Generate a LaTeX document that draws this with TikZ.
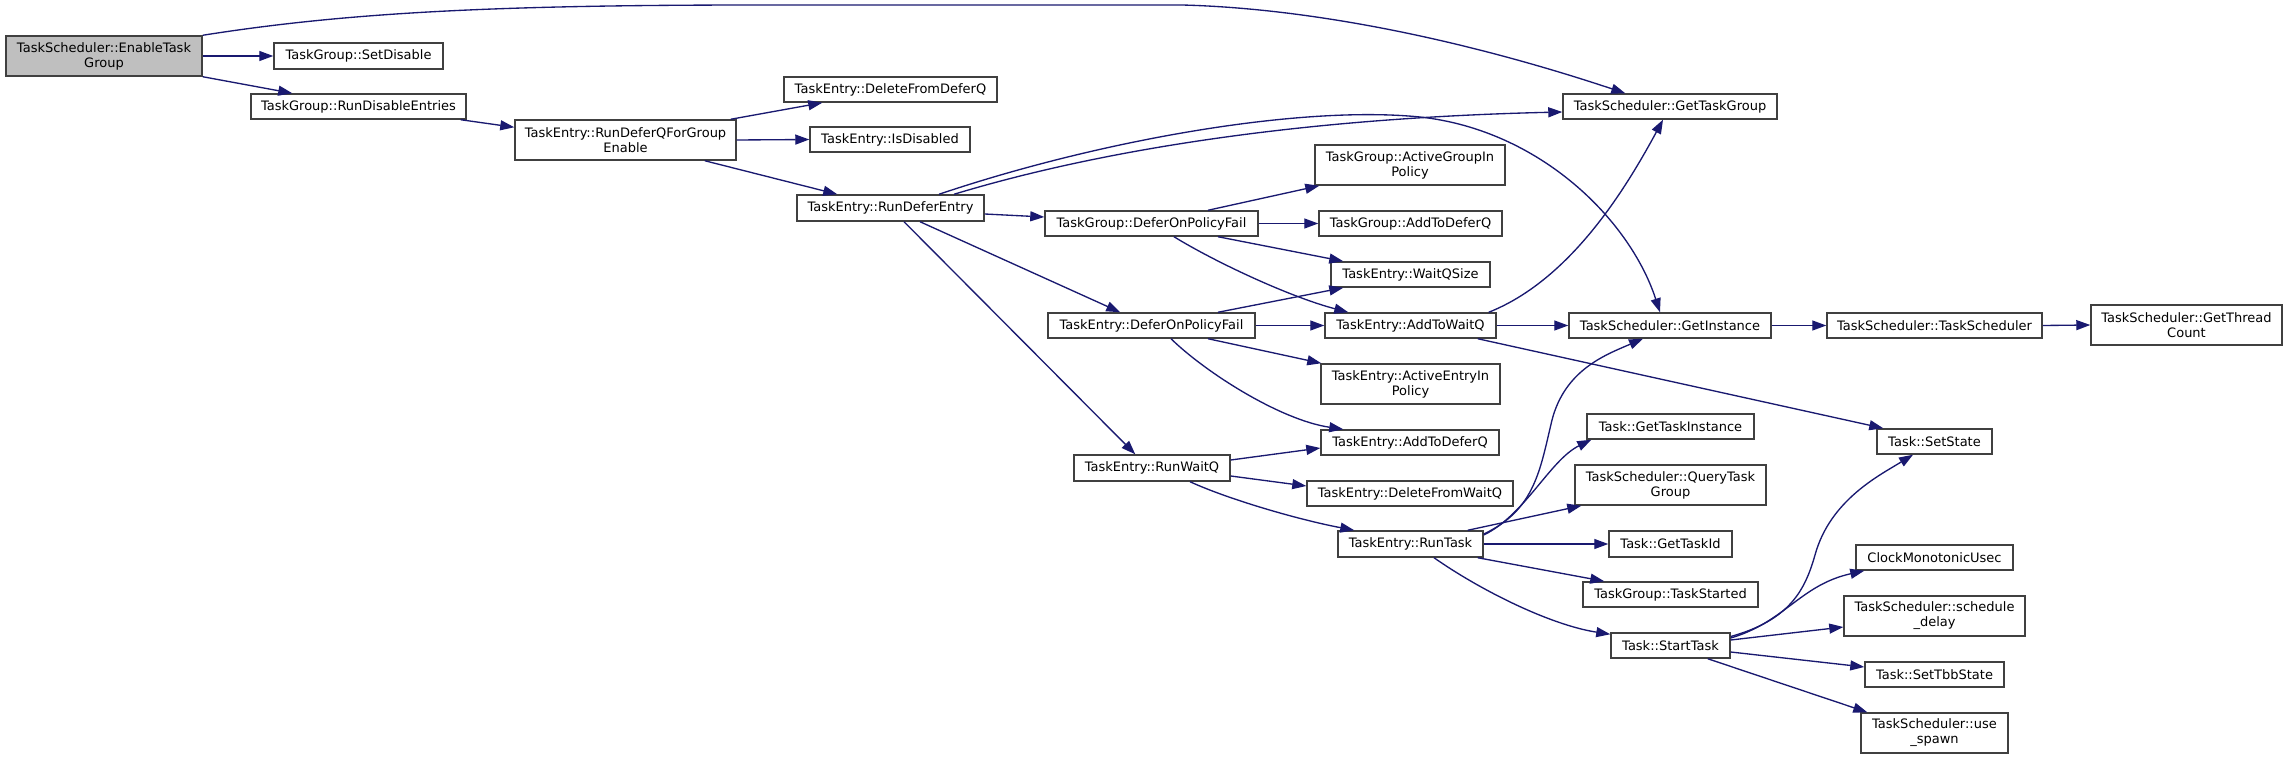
\documentclass[tikz,border=0pt]{standalone}
\usepackage{fontspec}
\setmainfont{DejaVu Sans}
\usetikzlibrary{arrows.meta,calc}
\definecolor{edgec}{HTML}{191970}
\definecolor{nodeb}{HTML}{404040}
\definecolor{rootf}{HTML}{BFBFBF}
\begin{document}
\begin{tikzpicture}[x=0.75pt,y=-0.75pt,
  box/.style={draw=nodeb, line width=1.1pt, fill=white, inner sep=0pt, align=center,
    font=\fontsize{9.75}{11.25}\selectfont},
  sz/.style 2 args={minimum width=#1*0.75pt, minimum height=#2*0.75pt},
  edge/.style={draw=edgec, line width=1pt, -{Triangle[length=10.5pt,width=7.5pt]}}]
\fill[white] (0,0) rectangle (2288,759);
\useasboundingbox (0,0) rectangle (2288,759);

\node[box,fill=rootf,sz={196}{40}] (root) at (104,56) {TaskScheduler::EnableTask\\Group};
\node[box,sz={169}{26}] (setdis) at (358.5,56) {TaskGroup::SetDisable};
\node[box,sz={215}{25}] (rundis) at (358.5,106.5) {TaskGroup::RunDisableEntries};
\node[box,sz={221}{40}] (rdq) at (625.5,140) {TaskEntry::RunDeferQForGroup\\Enable};
\node[box,sz={213}{25}] (delq) at (890.5,89.5) {TaskEntry::DeleteFromDeferQ};
\node[box,sz={160}{25}] (isdis) at (890,139.5) {TaskEntry::IsDisabled};
\node[box,sz={187}{26}] (rde) at (890.5,208) {TaskEntry::RunDeferEntry};
\node[box,sz={190}{40}] (agip) at (1410,165) {TaskGroup::ActiveGroupIn\\Policy};
\node[box,sz={213}{25}] (tgd) at (1151.5,223.5) {TaskGroup::DeferOnPolicyFail};
\node[box,sz={183}{25}] (tgadq) at (1410.5,223.5) {TaskGroup::AddToDeferQ};
\node[box,sz={214}{25}] (gtg) at (1670,106.5) {TaskScheduler::GetTaskGroup};
\node[box,sz={159}{25}] (wqs) at (1410.5,274.5) {TaskEntry::WaitQSize};
\node[box,sz={207}{25}] (ted) at (1151.5,325.5) {TaskEntry::DeferOnPolicyFail};
\node[box,sz={171}{25}] (atwq) at (1410.5,325.5) {TaskEntry::AddToWaitQ};
\node[box,sz={179}{40}] (aeip) at (1410.5,384) {TaskEntry::ActiveEntryIn\\Policy};
\node[box,sz={178}{25}] (teadq) at (1410,442.5) {TaskEntry::AddToDeferQ};
\node[box,sz={156}{26}] (rwq) at (1152,468) {TaskEntry::RunWaitQ};
\node[box,sz={206}{25}] (dfwq) at (1410,493.5) {TaskEntry::DeleteFromWaitQ};
\node[box,sz={202}{25}] (gi) at (1670,325.5) {TaskScheduler::GetInstance};
\node[box,sz={215}{25}] (tsc) at (1934.5,325.5) {TaskScheduler::TaskScheduler};
\node[box,sz={191}{40}] (gtc) at (2186.5,325) {TaskScheduler::GetThread\\Count};
\node[box,sz={115}{25}] (ss) at (1934.5,441.5) {Task::SetState};
\node[box,sz={167}{25}] (gti) at (1670.5,426.5) {Task::GetTaskInstance};
\node[box,sz={191}{40}] (qtg) at (1670.5,485) {TaskScheduler::QueryTask\\Group};
\node[box,sz={145}{26}] (rt) at (1410.5,544) {TaskEntry::RunTask};
\node[box,sz={123}{26}] (gtid) at (1670.5,544) {Task::GetTaskId};
\node[box,sz={175}{25}] (tst) at (1670.5,594.5) {TaskGroup::TaskStarted};
\node[box,sz={119}{25}] (st) at (1670.5,645.5) {Task::StartTask};
\node[box,sz={157}{25}] (cmu) at (1934.5,557.5) {ClockMonotonicUsec};
\node[box,sz={181}{40}] (sd) at (1934.5,616) {TaskScheduler::schedule\\\_delay};
\node[box,sz={139}{25}] (stbb) at (1934.5,674.5) {Task::SetTbbState};
\node[box,sz={147}{40}] (us) at (1934.5,733) {TaskScheduler::use\\\_spawn};

\draw[edge] (root.east) -- (setdis.west);
\draw[edge] (root.south east) -- ($(rundis.north west)+(42,0)$);
\draw[edge] (root.north east) .. controls (350,12) and (500,5) .. (760,5) -- (1182,5) .. controls (1300,8) and (1450,35) .. ($(gtg.north west)+(63,0)$);
\draw[edge] ($(rundis.south east)+(-6,0)$) -- ($(rdq.north west)+(0,8)$);
\draw[edge] ($(rdq.north east)+(-6,0)$) -- ($(delq.south west)+(39,0)$);
\draw[edge] (rdq.east) -- (isdis.west);
\draw[edge] ($(rdq.south east)+(-32,0)$) -- ($(rde.north west)+(41,0)$);
\draw[edge] ($(rde.north)+(63.5,0)$) .. controls (1100,150) and (1300,118) .. ($(gtg.west)+(0,5.5)$);
\draw[edge] ($(rde.north)+(48.5,0)$) .. controls (1100,140) and (1300,105) .. (1420,117) .. controls (1540,130) and (1630,220) .. ($(gi.north)+(-10,0)$);
\draw[edge] ($(rde.east)+(0,6)$) -- ($(tgd.west)+(0,-6.5)$);
\draw[edge] ($(rde.south)+(29.5,0)$) -- ($(ted.north west)+(73,0)$);
\draw[edge] ($(rde.south)+(13.5,0)$) -- ($(rwq.north west)+(62,0)$);
\draw[edge] ($(tgd.north)+(56.5,0)$) -- ($(agip.south west)+(5,0)$);
\draw[edge] (tgd.east) -- (tgadq.west);
\draw[edge] ($(tgd.south)+(66.5,0)$) -- ($(wqs.north west)+(13,0)$);
\draw[edge] ($(tgd.south)+(22.5,0)$) .. controls (1215,262) and (1290,297) .. ($(atwq.north west)+(24,0)$);
\draw[edge] ($(ted.north)+(66.5,0)$) -- ($(wqs.south west)+(13,0)$);
\draw[edge] (ted.east) -- (atwq.west);
\draw[edge] ($(ted.south)+(56.5,0)$) -- ($(aeip.north west)+(1,0)$);
\draw[edge] ($(ted.south)+(19.5,0)$) .. controls (1205,372) and (1280,420) .. ($(teadq.north west)+(23,0)$);
\draw[edge] ($(atwq.north east)+(-8,0)$) .. controls (1570,280) and (1625,190) .. ($(gtg.south)+(-7,0)$);
\draw[edge] (atwq.east) -- (gi.west);
\draw[edge] ($(atwq.south east)+(-19,0)$) -- ($(ss.north west)+(7,0)$);
\draw[edge] (gi.east) -- (tsc.west);
\draw[edge] (tsc.east) -- (gtc.west);
\draw[edge] ($(rwq.east)+(0,-8)$) -- ($(teadq.west)+(0,5.5)$);
\draw[edge] ($(rwq.east)+(0,8)$) -- ($(dfwq.west)+(0,-7.5)$);
\draw[edge] ($(rwq.south)+(38,0)$) .. controls (1230,500) and (1300,520) .. ($(rt.north west)+(17,0)$);
\draw[edge] ($(rt.east)+(0,-10)$) .. controls (1535,510) and (1540,470) .. (1552,420) .. controls (1565,370) and (1605,355) .. ($(gi.south)+(-27,0)$);
\draw[edge] ($(rt.east)+(0,-9)$) .. controls (1525,515) and (1550,460) .. ($(gti.south west)+(5,0)$);
\draw[edge] ($(rt.north east)+(-16,0)$) -- ($(qtg.south west)+(7,0)$);
\draw[edge] (rt.east) -- (gtid.west);
\draw[edge] ($(rt.south east)+(-6,0)$) -- ($(tst.north west)+(22,0)$);
\draw[edge] ($(rt.south)+(23.5,0)$) .. controls (1480,590) and (1550,625) .. ($(st.north west)+(0,2)$);
\draw[edge] ($(st.east)+(0,-9)$) .. controls (1790,620) and (1805,590) .. (1815,555) .. controls (1830,500) and (1880,475) .. ($(ss.south)+(-21.5,0)$);
\draw[edge] ($(st.east)+(0,-7.5)$) .. controls (1785,622) and (1800,585) .. ($(cmu.south west)+(9,0)$);
\draw[edge] ($(st.east)+(0,-5.5)$) -- ($(sd.west)+(0,11)$);
\draw[edge] ($(st.east)+(0,6.5)$) -- ($(stbb.west)+(0,-7.5)$);
\draw[edge] ($(st.south east)+(-23,0)$) -- ($(us.north west)+(7,0)$);
\end{tikzpicture}
\end{document}
